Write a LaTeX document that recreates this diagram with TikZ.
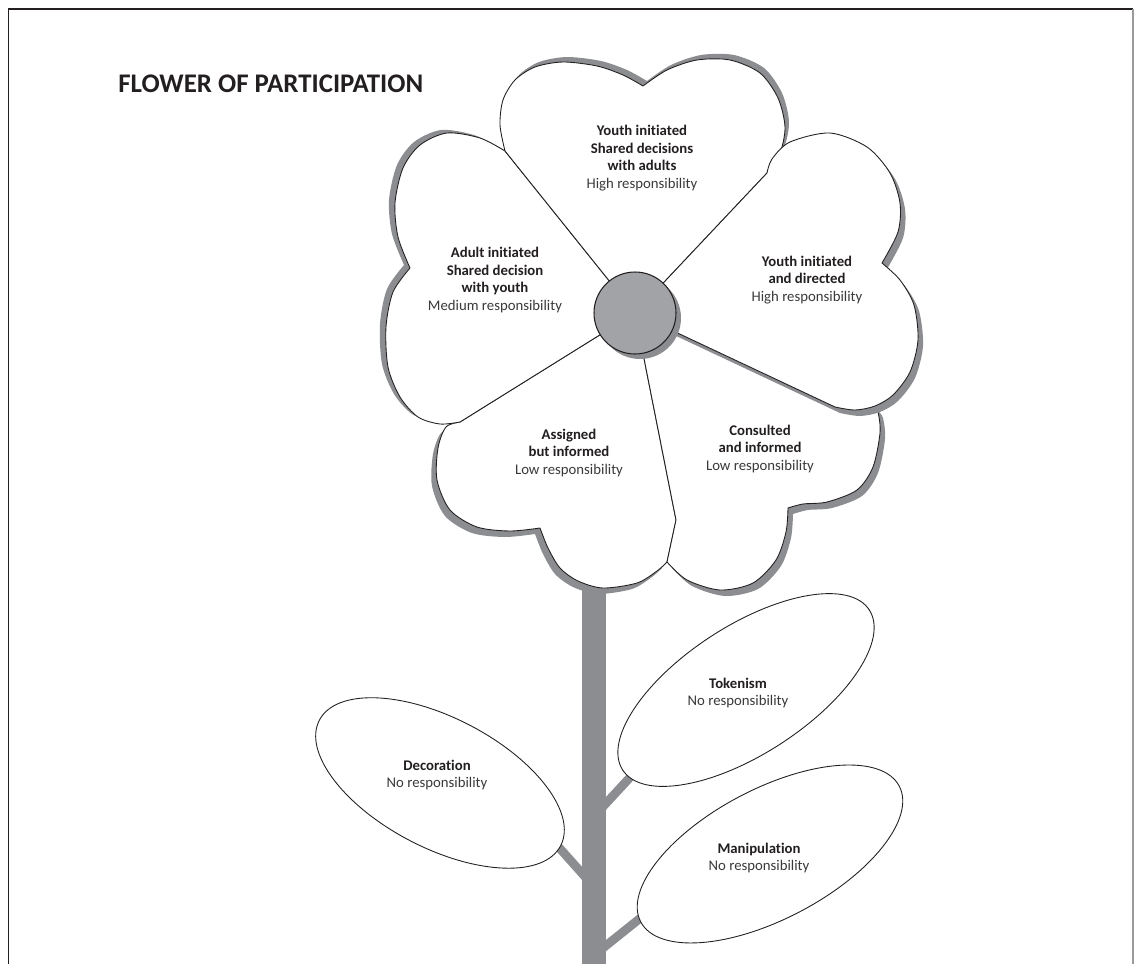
\documentclass[tikz,border=0pt]{standalone}
\usepackage{fontspec}
\setmainfont{Carlito}[Ligatures={NoCommon,NoContextual}]
\usepackage{tikz}
\usetikzlibrary{shadows}

\definecolor{ink}{HTML}{231F20}
\definecolor{soft}{HTML}{3A3A3C}
\definecolor{stemgray}{HTML}{8B8D90}
\definecolor{discgray}{HTML}{A2A3A6}
\definecolor{framegray}{HTML}{9A9A9A}

\tikzset{
  petal/.style={fill=white, draw=ink, line width=0.5pt, line join=round},
  pshade/.style 2 args={drop shadow={shadow xshift=#1, shadow yshift=#2, fill=stemgray, opacity=1}},
  leaf/.style={fill=white, draw=ink, line width=0.5pt},
  twig/.style={draw=stemgray, line width=5pt},
  petaltext/.style={align=center, text=ink, font=\fontsize{8.4}{10}\selectfont},
}

\begin{document}
\begin{tikzpicture}[x=0.02cm, y=-0.02cm]

\useasboundingbox (0,0) rectangle (1134,964);

\coordinate (C)  at (635,313);
\coordinate (tl) at (505,151);
\coordinate (tr) at (767,173);
\coordinate (ll) at (460,422);
\coordinate (rb) at (835,407);
\coordinate (lb) at (676,520);
\coordinate (lf) at (667,562);
%
\coordinate (dec) at (440,783);
\coordinate (tok) at (746,690);
\coordinate (man) at (770,854);

%frame
\draw [line width=1.1pt, ink]       (8.5,964) -- (8.5,9) -- (1133,9);
\draw [line width=0.6pt, framegray] (1133,9) -- (1133,964);

%stem and twigs
\draw [twig] (588,880) -- (555,843);    %decoration
\draw [twig] (598,812) -- (635,772);    %tokenism
\draw [twig] (598,952) -- (648,912);    %manipulation
\fill [stemgray] (582,585) rectangle (606,964);

%leaves
\draw [leaf, rotate around={-27.5:(dec)}] (dec) ellipse [x radius=136, y radius=65];
\draw [leaf, rotate around={33:(tok)}]    (tok) ellipse [x radius=147, y radius=64];
\draw [leaf, rotate around={27.7:(man)}]  (man) ellipse [x radius=146, y radius=65];

%petals
\draw [petal, pshade={-0.1cm}{-0.12cm}] (C) -- (ll)    %assigned
  -- plot [smooth] coordinates {(ll) (446,427) (438,448) (437,480) (450,510) (477,527) (510,531) (540,528)}
  -- plot [smooth] coordinates {(540,528) (548,548) (560,568) (578,581) (603,588) (637,583) (657,571) (lf)}
  -- (lb) -- cycle;
\draw [petal, pshade={0.1cm}{-0.12cm}] (C) -- (lb) -- (lf)    %consulted
  -- plot [smooth] coordinates {(lf) (687,580) (720,590) (753,583) (776,560) (786,532) (788,508)}
  -- plot [smooth] coordinates {(788,508) (803,504) (827,502) (857,490) (873,467) (880,433) (878,412) (873,405)}
  -- cycle;
\draw [petal, pshade={-0.12cm}{0.06cm}] (C) -- (ll)    %adult initiated
  -- plot [smooth] coordinates {(ll) (440,424) (418,417) (400,397) (388,367) (386,327) (393,292) (410,268)}
  -- plot [smooth] coordinates {(410,268) (398,237) (395,203) (403,168) (420,145) (447,133) (480,138) (tl)}
  -- cycle;
\draw [petal, pshade={0.08cm}{0.1cm}] (C) -- (tl)    %youth shared
  -- plot [smooth] coordinates {(tl) (500,125) (503,100) (515,80) (535,67) (563,62) (597,66) (623,75) (643,86)}
  -- plot [smooth] coordinates {(643,86) (667,70) (697,60) (730,60) (760,73) (778,98) (785,127) (780,153) (tr)}
  -- cycle;
\draw [petal, pshade={0.1cm}{-0.12cm}] (C) -- (tr)    %youth directed
  -- plot [smooth] coordinates {(tr) (772,159) (790,142) (830,133) (867,147) (890,173) (900,203) (898,232) (882,263)}
  -- plot [smooth] coordinates {(882,263) (900,280) (914,305) (918,340) (910,372) (893,395) (875,406) (855,410) (rb)}
  -- cycle;

%centre
\draw [pshade={0.1cm}{-0.1cm}, fill=discgray, draw=ink, line width=0.6pt] (C) circle [radius=41];

%labels
\node [anchor=base west, inner sep=0pt, text=ink, font=\fontsize{15.3}{18}\selectfont\bfseries] (title) at (118,92) {FLOWER OF PARTICIPATION};
%
\node [petaltext] (youthshared)   at (642,158) {\textbf{Youth initiated}\\\textbf{Shared decisions}\\\textbf{with adults}\\\textcolor{soft}{High responsibility}};
\node [petaltext] (adultshared)   at (495,280) {\textbf{Adult initiated}\\\textbf{Shared decision}\\\textbf{with youth}\\\textcolor{soft}{Medium responsibility}};
\node [petaltext] (youthdirected) at (807,280) {\textbf{Youth initiated}\\\textbf{and directed}\\\textcolor{soft}{High responsibility}};
\node [petaltext] (assigned)      at (569,453) {\textbf{Assigned}\\\textbf{but informed}\\\textcolor{soft}{Low responsibility}};
\node [petaltext] (consulted)     at (760,449) {\textbf{Consulted}\\\textbf{and informed}\\\textcolor{soft}{Low responsibility}};
%
\node [petaltext] (tokenism)      at (738,693) {\textbf{Tokenism}\\\textcolor{soft}{No responsibility}};
\node [petaltext] (decoration)    at (437,775) {\textbf{Decoration}\\\textcolor{soft}{No responsibility}};
\node [petaltext] (manipulation)  at (759,858) {\textbf{Manipulation}\\\textcolor{soft}{No responsibility}};

\end{tikzpicture}
\end{document}
